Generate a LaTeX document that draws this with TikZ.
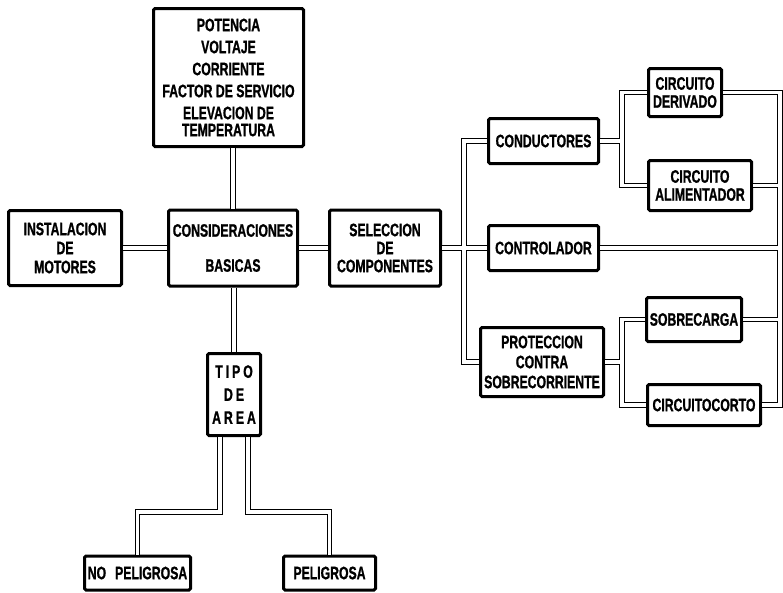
\documentclass[tikz,border=0pt]{standalone}
\usepackage{fontspec}
\setmainfont{Liberation Sans}[FakeStretch=0.68, BoldFeatures={FakeBold=1}]
\usetikzlibrary{calc}
\newcommand\boxfont[1]{\fontsize{18}{#1}\selectfont\bfseries}

\begin{document}
\begin{tikzpicture}[x=1pt, y=-1pt,
  box/.style={draw, line width=3pt, rounded corners=1.5pt, inner sep=1pt, align=center,
    font=\boxfont{18}},
  link/.style={double, double distance=3.5pt, line width=0.8pt}]
\useasboundingbox (0,0) rectangle (783,592);
% boxes
\node[box, minimum width=150pt, minimum height=138pt, font=\boxfont{22}] (pot) at (228.5,77.5)
  {POTENCIA\\VOLTAJE\\CORRIENTE\\FACTOR DE SERVICIO\\ELEVACION DE\\[-5pt]TEMPERATURA};
\node[box, minimum width=113pt, minimum height=75pt, font=\boxfont{19}] (inst) at (65,248)
  {INSTALACION\\DE\\MOTORES};
\node[box, minimum width=129pt, minimum height=76pt, font=\boxfont{35}] (cons) at (233,248)
  {CONSIDERACIONES\\BASICAS};
\node[box, minimum width=111pt, minimum height=76pt] (sel) at (385,248) {SELECCION\\DE\\COMPONENTES};
\node[box, minimum width=110pt, minimum height=45pt] (cond) at (543.5,141) {CONDUCTORES};
\node[box, minimum width=110pt, minimum height=45pt] (ctrl) at (543.5,248) {CONTROLADOR};
\node[box, minimum width=123pt, minimum height=69pt, font=\boxfont{20}] (prot) at (542,362)
  {PROTECCION\\CONTRA\\SOBRECORRIENTE};
\node[box, minimum width=73pt, minimum height=48pt] (der) at (685,92.5) {CIRCUITO\\DERIVADO};
\node[box, minimum width=103pt, minimum height=50pt] (alim) at (700,185.5) {CIRCUITO\\ALIMENTADOR};
\node[box, minimum width=95pt, minimum height=44pt] (sobre) at (694,319.5) {SOBRECARGA};
\node[box, minimum width=113pt, minimum height=41pt] (corto) at (704,405) {CIRCUITOCORTO};
\node[box, minimum width=53pt, minimum height=82pt, font=\boxfont{23}] (tipo) at (234,394.5)
  {T\,I\,P\,O\\D\,E\\A\,R\,E\,A};
\node[box, minimum width=106pt, minimum height=34pt] (nop) at (137.5,573) {NO\enspace PELIGROSA};
\node[box, minimum width=92pt, minimum height=34pt] (pel) at (329.5,573) {PELIGROSA};
% junctions
\coordinate (spn) at (464,248);
\coordinate (jc) at (622,141);
\coordinate (jp) at (622,362);
\coordinate (bus) at (780,405);
\coordinate (tl) at (220,512);
\coordinate (tr) at (248,512);
% links
\draw[link] (cons.north |- pot.south) -- (cons.north)
  (inst.east) -- (cons.west)
  (cons.east) -- (sel.west)
  (tipo.north |- cons.south) -- (tipo.north)
  (sel.east) -- (ctrl.west)
  (cond.west) -| (spn) |- (prot.west)
  (cond.east) -- (jc)
  (der.west) -| (jc) |- (alim.west)
  (prot.east) -- (jp)
  (sobre.west) -| (jp) |- (corto.west)
  (der.east) -| (bus) -- (corto.east)
  (alim.east) -- (alim.east -| bus)
  (ctrl.east) -- (ctrl.east -| bus)
  (sobre.east) -- (sobre.east -| bus)
  ([xshift=-14pt]tipo.south) -- (tl) -| (nop.north)
  ([xshift=14pt]tipo.south) -- (tr) -| (pel.north);
\end{tikzpicture}
\end{document}
